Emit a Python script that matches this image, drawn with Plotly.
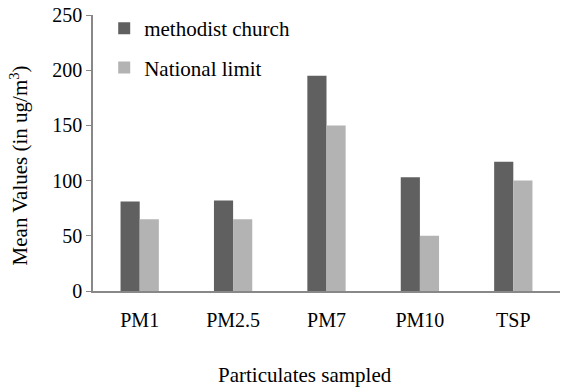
import plotly.graph_objects as go

categories = ["PM1", "PM2.5", "PM7", "PM10", "TSP"]
methodist_church = [81, 82, 195, 103, 117]
national_limit = [65, 65, 150, 50, 100]
y_ticks = [0, 50, 100, 150, 200, 250]

font = "Liberation Serif"
fs_tick = 20
fs_text = 21

fig = go.Figure()
fig.add_trace(go.Bar(x=categories, y=methodist_church, name="methodist church",
                     marker=dict(color="#606060", line=dict(width=0)), legendgroup="a"))
fig.add_trace(go.Bar(x=categories, y=national_limit, name="National limit",
                     marker=dict(color="#b3b3b3", line=dict(width=0)), legendgroup="b"))

fig.update_layout(
    width=562, height=388,
    margin=dict(l=93, r=2, t=15, b=97),
    paper_bgcolor="white", plot_bgcolor="white",
    font=dict(family=font, size=fs_text, color="black"),
    barmode="group", bargap=0.59, bargroupgap=0,
    showlegend=True,
    legend=dict(x=0.024, y=1.025, xanchor="left", yanchor="top",
                font=dict(family=font, size=fs_text), tracegroupgap=9,
                bgcolor="rgba(0,0,0,0)", itemwidth=30),
)
fig.update_yaxes(range=[0, 250], tickvals=y_ticks, showgrid=False, zeroline=False,
                 showline=True, linecolor="#888888", linewidth=1.5,
                 ticks="outside", ticklen=5, tickcolor="#888888",
                 tickfont=dict(family=font, size=fs_tick))
fig.update_xaxes(showgrid=False, showline=True, linecolor="#888888", linewidth=1.5,
                 ticks="", tickfont=dict(family=font, size=fs_tick), ticklabelstandoff=10)
fig.add_annotation(text="Mean Values (in ug/m<sup>3</sup>)", x=0, y=0.455, xref="paper", yref="paper",
                   xanchor="center", yanchor="middle", xshift=-74, textangle=-90, showarrow=False,
                   font=dict(family=font, size=fs_text))
fig.add_annotation(text="Particulates sampled", x=0.454, y=0, xref="paper", yref="paper",
                   xanchor="center", yanchor="middle", yshift=-84, showarrow=False,
                   font=dict(family=font, size=fs_text))

fig.write_html("out.html")
